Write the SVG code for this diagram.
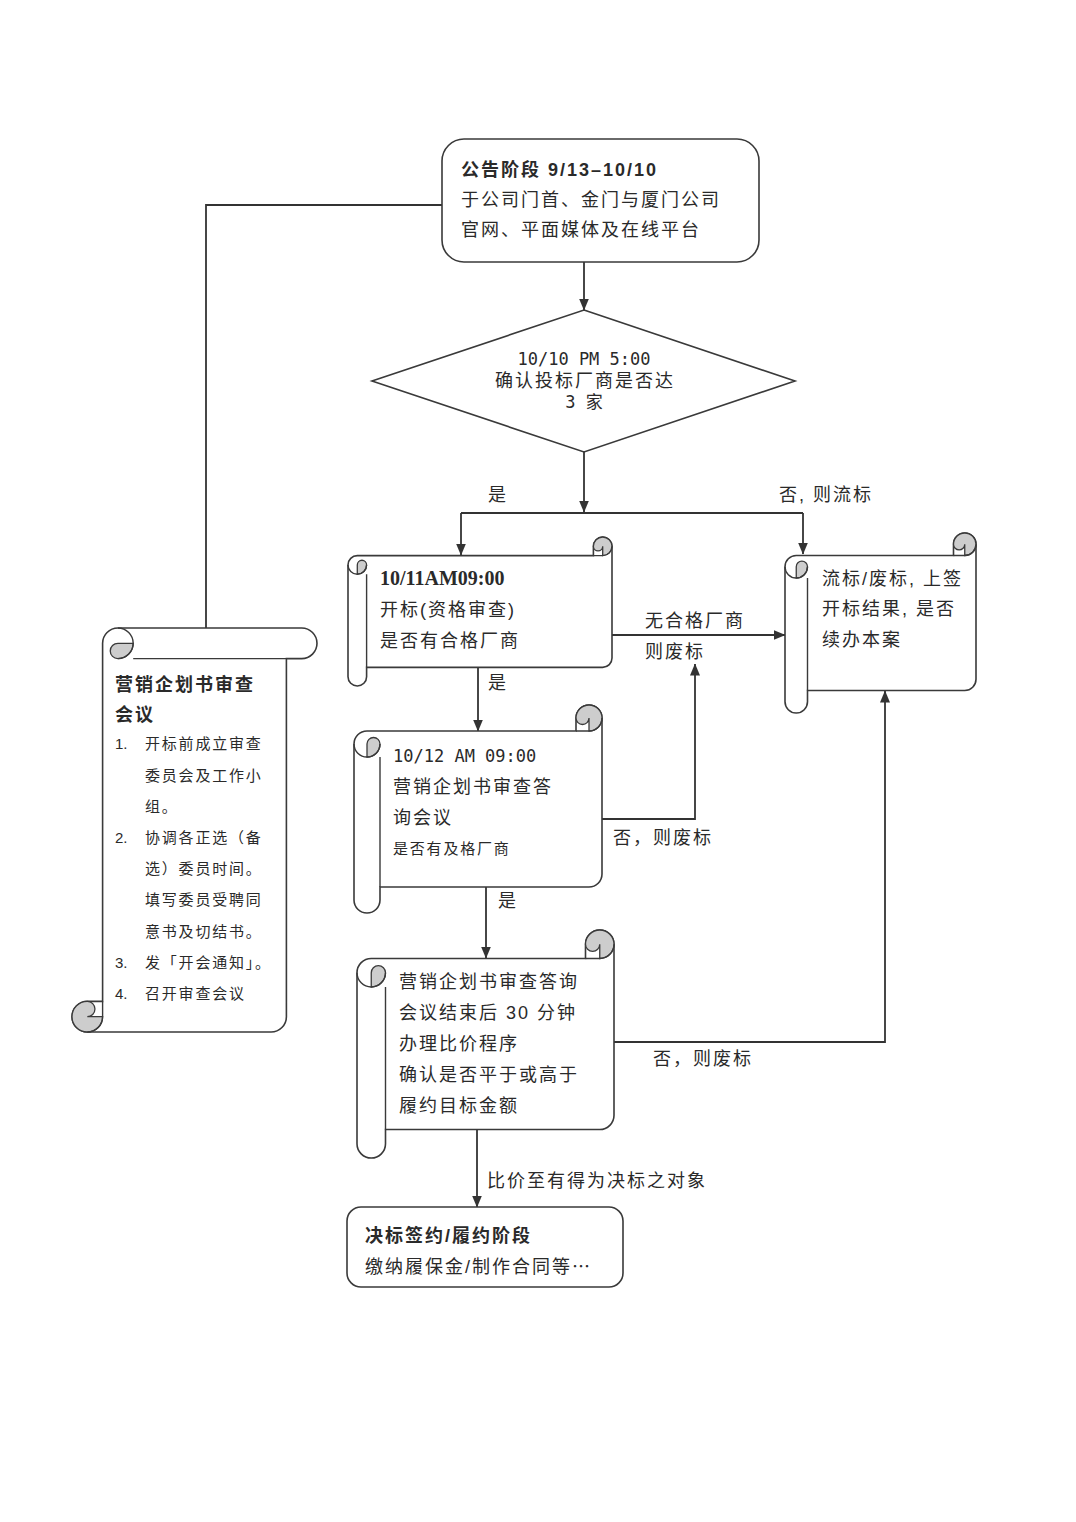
<svg xmlns="http://www.w3.org/2000/svg" width="1076" height="1522" viewBox="0 0 1076 1522">
<style>
.t{font-family:"Liberation Sans","Noto Sans CJK SC",sans-serif;font-size:18px;letter-spacing:2px;fill:#2a2a2a}
.b{font-weight:bold}
.m{font-family:"DejaVu Sans Mono","Noto Sans CJK SC",monospace;font-size:17px;fill:#2a2a2a}
.sv{font-family:"Liberation Serif","Noto Sans CJK SC",serif;font-size:20px;font-weight:bold;fill:#2a2a2a}
.s{font-size:15px;letter-spacing:1.8px}
.n{font-family:"Liberation Sans",sans-serif;font-size:15px;fill:#2a2a2a}
.shape{fill:#fff;stroke:#3a3a3a;stroke-width:1.6}
.curl{fill:#cdcdcd;stroke:#3a3a3a;stroke-width:1.3}
.ln{fill:none;stroke:#3a3a3a;stroke-width:1.4}
.edge{fill:none;stroke:#333;stroke-width:1.8}
</style>
<defs>
<marker id="ah" viewBox="0 0 12 10" refX="11.5" refY="5" markerWidth="12" markerHeight="10" markerUnits="userSpaceOnUse" orient="auto">
<path d="M0,0 L12,5 L0,10 z" fill="#333"/>
</marker>
</defs>
<rect x="0" y="0" width="1076" height="1522" fill="#fff"/>

<g id="connectors">
<path class="edge" d="M584,262 V310" marker-end="url(#ah)"/>
<path class="edge" d="M584,452 V512" marker-end="url(#ah)"/>
<path class="edge" d="M461,513 H803"/>
<path class="edge" d="M461,513 V555" marker-end="url(#ah)"/>
<path class="edge" d="M803,513 V554" marker-end="url(#ah)"/>
<path class="edge" d="M612,635 H785" marker-end="url(#ah)"/>
<path class="edge" d="M602,819 H695 V664" marker-end="url(#ah)"/>
<path class="edge" d="M478,667 V731" marker-end="url(#ah)"/>
<path class="edge" d="M486,887 V958" marker-end="url(#ah)"/>
<path class="edge" d="M614,1042 H885 V691" marker-end="url(#ah)"/>
<path class="edge" d="M477,1129 V1207" marker-end="url(#ah)"/>
<path class="edge" d="M442,205 H206 V628"/>
<text class="t" x="488" y="501">是</text>
<text class="t" x="779" y="501">否, 则流标</text>
<text class="t" x="645" y="627">无合格厂商</text>
<text class="t" x="645" y="658">则废标</text>
<text class="t" x="488" y="689">是</text>
<text class="t" x="613" y="844">否，则废标</text>
<text class="t" x="498" y="907">是</text>
<text class="t" x="653" y="1065">否，则废标</text>
<text class="t" x="487" y="1187">比价至有得为决标之对象</text>
</g>

<g id="announce">
<rect class="shape" x="442" y="139" width="317" height="123" rx="22"/>
<text class="t b" x="461" y="176">公告阶段 9/13–10/10</text>
<text class="t" x="461" y="206">于公司门首、金门与厦门公司</text>
<text class="t" x="461" y="236">官网、平面媒体及在线平台</text>
</g>

<g id="decision">
<path class="shape" d="M584,310 L795,381 L584,452 L372,381 Z"/>
<text class="m" x="584" y="365" text-anchor="middle">10/10 PM 5:00</text>
<text class="t" x="585" y="387" text-anchor="middle">确认投标厂商是否达</text>
<text class="m" x="584" y="408" text-anchor="middle">3 家</text>
</g>

<g id="open-bid" transform="translate(348,537)">
<path class="shape" d="M245.4,18.6 L9.3,18.6 A9.3 9.3 0 0 0 0,27.9 L0,139.7 A9.3 9.3 0 0 0 18.6,139.7 L18.6,130.4 L254.7,130.4 A9.3 9.3 0 0 0 264,121.1 L264,9.3 A9.3 9.3 0 0 0 245.4,9.3 Z"/>
<path class="curl" d="M9.3,27.9 L9.3,37.2 A9.3 9.3 0 0 0 18.6,27.9 A4.65 4.65 0 0 0 9.3,27.9 Z"/>
<path class="curl" d="M254.7,18.6 A9.3 9.3 0 1 0 245.4,9.3 A4.65 4.65 0 0 0 254.7,9.3 Z"/>
<path class="ln" d="M0,27.9 A9.3 9.3 0 0 0 18.6,27.9 M18.6,37.2 L18.6,130.4 M264,9.3 A9.3 9.3 0 0 1 254.7,18.6 L245.4,18.6"/>
</g>
<g id="open-bid-text">
<text class="sv" x="380" y="585">10/11AM09:00</text>
<text class="t" x="380" y="616">开标(资格审查)</text>
<text class="t" x="380" y="647">是否有合格厂商</text>
</g>

<g id="fail-bid" transform="translate(785,533)">
<path class="shape" d="M168.5,22.5 L11.25,22.5 A11.25 11.25 0 0 0 0,33.75 L0,168.75 A11.25 11.25 0 0 0 22.5,168.75 L22.5,157.5 L179.75,157.5 A11.25 11.25 0 0 0 191,146.25 L191,11.25 A11.25 11.25 0 0 0 168.5,11.25 Z"/>
<path class="curl" d="M11.25,33.75 L11.25,45 A11.25 11.25 0 0 0 22.5,33.75 A5.625 5.625 0 0 0 11.25,33.75 Z"/>
<path class="curl" d="M179.75,22.5 A11.25 11.25 0 1 0 168.5,11.25 A5.625 5.625 0 0 0 179.75,11.25 Z"/>
<path class="ln" d="M0,33.75 A11.25 11.25 0 0 0 22.5,33.75 M22.5,45 L22.5,157.5 M191,11.25 A11.25 11.25 0 0 1 179.75,22.5 L168.5,22.5"/>
</g>
<g id="fail-bid-text">
<text class="t" x="822" y="585">流标/废标, 上签</text>
<text class="t" x="822" y="615">开标结果, 是否</text>
<text class="t" x="822" y="646">续办本案</text>
</g>

<g id="qa-meeting" transform="translate(354,705)">
<path class="shape" d="M222,26 L13,26 A13 13 0 0 0 0,39 L0,195 A13 13 0 0 0 26,195 L26,182 L235,182 A13 13 0 0 0 248,169 L248,13 A13 13 0 0 0 222,13 Z"/>
<path class="curl" d="M13,39 L13,52 A13 13 0 0 0 26,39 A6.5 6.5 0 0 0 13,39 Z"/>
<path class="curl" d="M235,26 A13 13 0 1 0 222,13 A6.5 6.5 0 0 0 235,13 Z"/>
<path class="ln" d="M0,39 A13 13 0 0 0 26,39 M26,52 L26,182 M248,13 A13 13 0 0 1 235,26 L222,26"/>
</g>
<g id="qa-meeting-text">
<text class="m" x="393" y="762">10/12 AM 09:00</text>
<text class="t" x="393" y="793">营销企划书审查答</text>
<text class="t" x="393" y="824">询会议</text>
<text class="t s" x="393" y="854">是否有及格厂商</text>
</g>

<g id="price-compare" transform="translate(357,930)">
<path class="shape" d="M228.5,28.5 L14.25,28.5 A14.25 14.25 0 0 0 0,42.75 L0,213.75 A14.25 14.25 0 0 0 28.5,213.75 L28.5,199.5 L242.75,199.5 A14.25 14.25 0 0 0 257,185.25 L257,14.25 A14.25 14.25 0 0 0 228.5,14.25 Z"/>
<path class="curl" d="M14.25,42.75 L14.25,57 A14.25 14.25 0 0 0 28.5,42.75 A7.125 7.125 0 0 0 14.25,42.75 Z"/>
<path class="curl" d="M242.75,28.5 A14.25 14.25 0 1 0 228.5,14.25 A7.125 7.125 0 0 0 242.75,14.25 Z"/>
<path class="ln" d="M0,42.75 A14.25 14.25 0 0 0 28.5,42.75 M28.5,57 L28.5,199.5 M257,14.25 A14.25 14.25 0 0 1 242.75,28.5 L228.5,28.5"/>
</g>
<g id="price-compare-text">
<text class="t" x="399" y="988">营销企划书审查答询</text>
<text class="t" x="399" y="1019">会议结束后 30 分钟</text>
<text class="t" x="399" y="1050">办理比价程序</text>
<text class="t" x="399" y="1081">确认是否平于或高于</text>
<text class="t" x="399" y="1112">履约目标金额</text>
</g>

<g id="review-meeting" transform="translate(72,628)">
<path class="shape" d="M30.6,373.4 L30.6,15.3 A15.3 15.3 0 0 1 45.9,0 L229.7,0 A15.3 15.3 0 0 1 229.7,30.6 L214.4,30.6 L214.4,388.7 A15.3 15.3 0 0 1 199.1,404 L15.3,404 A15.3 15.3 0 0 1 15.3,373.4 Z"/>
<path class="curl" d="M45.9,15.3 L61.2,15.3 A15.3 15.3 0 0 1 45.9,30.6 A7.65 7.65 0 0 1 45.9,15.3 Z"/>
<path class="curl" d="M30.6,388.7 A15.3 15.3 0 1 1 15.3,373.4 A7.65 7.65 0 0 1 15.3,388.7 Z"/>
<path class="ln" d="M45.9,0 A15.3 15.3 0 0 1 45.9,30.6 M61.2,30.6 L214.4,30.6 M15.3,404 A15.3 15.3 0 0 0 30.6,388.7 L30.6,373.4"/>
</g>
<g id="review-meeting-text">
<text class="t b" x="115" y="691">营销企划书审查</text>
<text class="t b" x="115" y="721">会议</text>
<text class="n" x="115" y="749">1.</text>
<text class="t s" x="145" y="749">开标前成立审查</text>
<text class="t s" x="145" y="781">委员会及工作小</text>
<text class="t s" x="145" y="812">组。</text>
<text class="n" x="115" y="843">2.</text>
<text class="t s" x="145" y="843">协调各正选（备</text>
<text class="t s" x="145" y="874">选）委员时间。</text>
<text class="t s" x="145" y="905">填写委员受聘同</text>
<text class="t s" x="145" y="937">意书及切结书。</text>
<text class="n" x="115" y="968">3.</text>
<text class="t s" x="145" y="968">发「开会通知」。</text>
<text class="n" x="115" y="999">4.</text>
<text class="t s" x="145" y="999">召开审查会议</text>
</g>

<g id="award">
<rect class="shape" x="347" y="1207" width="276" height="80" rx="14"/>
<text class="t b" x="365" y="1242">决标签约/履约阶段</text>
<text class="t" x="365" y="1273">缴纳履保金/制作合同等<tspan font-family="'Noto Sans CJK SC',sans-serif">⋯</tspan></text>
</g>
</svg>
